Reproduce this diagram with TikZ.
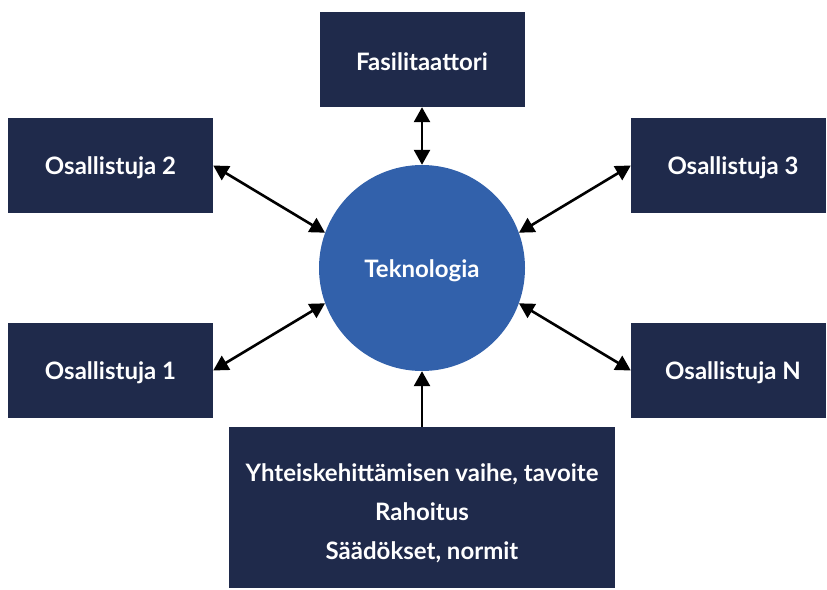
\documentclass[tikz,border=0pt]{standalone}
\usepackage{fontspec}
\setmainfont{Lato}[UprightFont=* Bold]
\usetikzlibrary{arrows.meta}
\definecolor{navy}{HTML}{1F2A4B}
\definecolor{tekblue}{HTML}{3261AB}
\begin{document}
\begin{tikzpicture}[x=1pt,y=-1pt,
  box/.style={fill=navy,text=white,minimum width=205pt,minimum height=95pt,inner sep=0pt},
  lbl/.style={text=white,font=\fontsize{24}{28}\selectfont},
  conn/.style={line width=2.6pt,{Triangle[width=16pt,length=15pt]}-{Triangle[width=16pt,length=15pt]}},
  conn1/.style={line width=2.6pt,-{Triangle[width=16pt,length=15pt]}}]
\useasboundingbox (0,0) rectangle (827,589);
\node[box] (fas) at (422,59.5) {};
\node[lbl] (fast) at (422,62) {Fasilitaattori};
\node[box] (o2) at (110.5,165.5) {};
\node[lbl] (o2t) at (110.5,168) {Osallistuja 2};
\node[box,minimum width=195pt] (o3) at (728.5,165.5) {};
\node[lbl] (o3t) at (733,168) {Osallistuja 3};
\node[box] (o1) at (110.5,370.5) {};
\node[lbl] (o1t) at (110.5,373) {Osallistuja 1};
\node[box,minimum width=195pt] (oN) at (728.5,370.5) {};
\node[lbl] (oNt) at (733,373) {Osallistuja N};
\node[box,minimum width=386pt,minimum height=161pt] (bot) at (422,507.5) {};
\node[align=center,text=white,font=\fontsize{24}{39}\selectfont] (bottxt) at (422,513)
  {Yhteiskehittämisen vaihe, tavoite\\Rahoitus\\Säädökset, normit};
\node[circle,fill=tekblue,minimum size=206pt,inner sep=0pt] (tek) at (422,268) {};
\node[lbl] (tekt) at (422,271) {Teknologia};
\draw[conn] (fas.south) -- (tek.north);
\draw[conn] (o2.east) -- (tek.160);
\draw[conn] (o3.west) -- (tek.20);
\draw[conn] (o1.east) -- (tek.200);
\draw[conn] (oN.west) -- (tek.340);
\draw[conn1] (bot.north) -- (tek.south);
\end{tikzpicture}
\end{document}
